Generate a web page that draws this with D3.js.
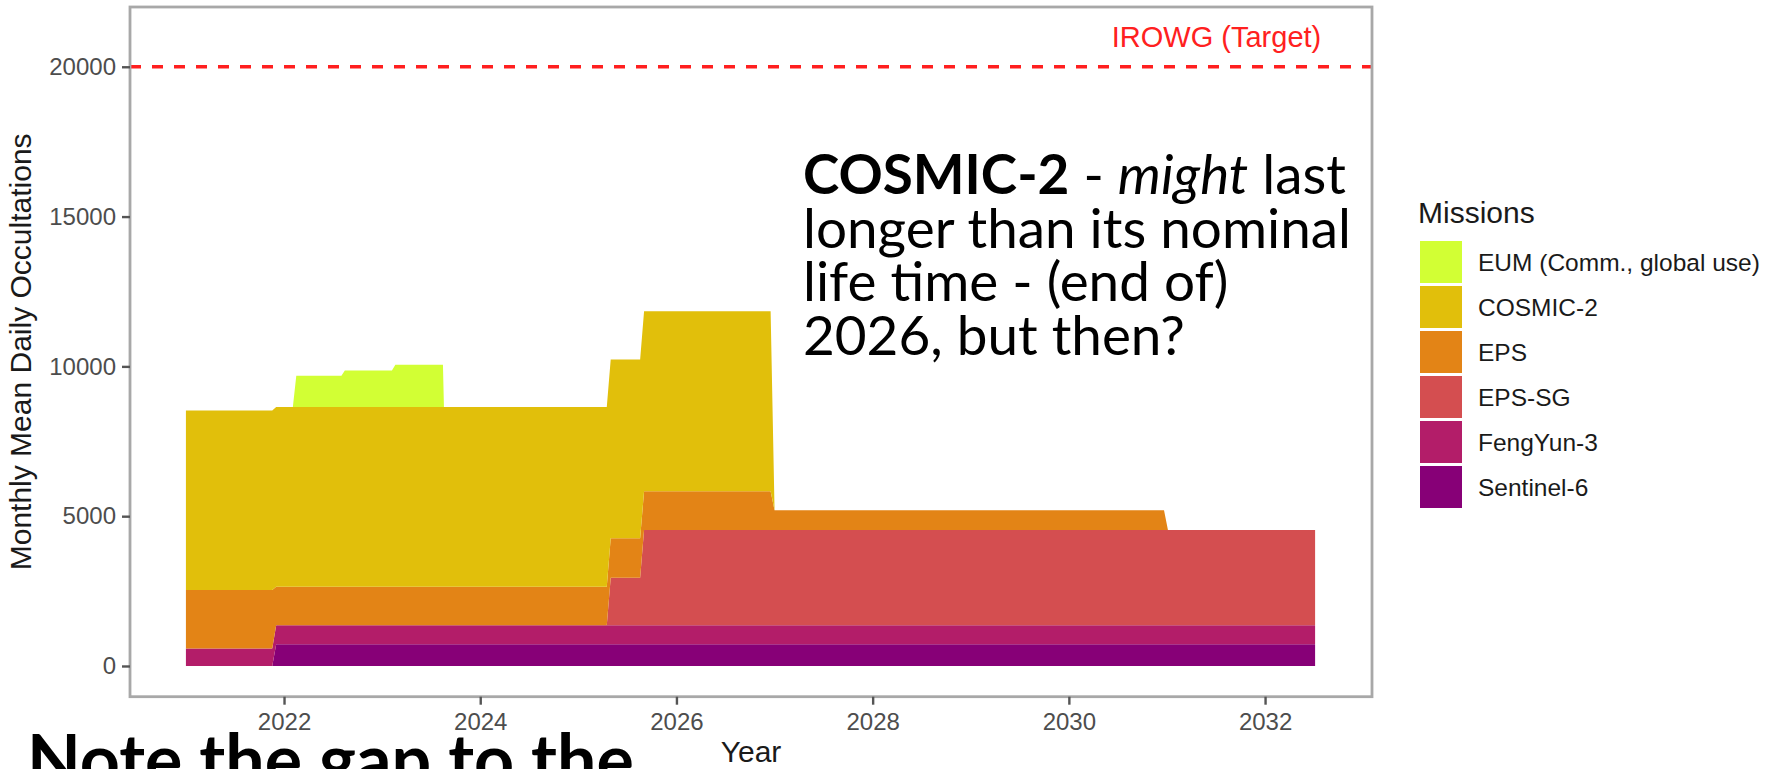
<!DOCTYPE html>
<html>
<head>
<meta charset="utf-8">
<script src="https://cdn.jsdelivr.net/npm/d3@7/dist/d3.min.js"></script>
<style>
  body { margin:0; background:#fff; }
  svg { display:block; }
</style>
</head>
<body>
<svg id="chart" width="1781" height="769"></svg>
<script>
// step points in decimal years (each change is a short ramp, like the monthly data)
var years     = [2021.00, 2021.88, 2021.92, 2022.09, 2022.125, 2022.585, 2022.62, 2023.10, 2023.135, 2023.62, 2023.63, 2025.29, 2025.33, 2025.63, 2025.67, 2026.96, 2027.00, 2030.97, 2031.01, 2032.51];
var sentinel6 = [0, 0, 722, 722, 722, 722, 722, 722, 722, 722, 722, 722, 722, 722, 722, 722, 722, 722, 722, 722];
var fengyun3  = [580, 580, 635, 635, 635, 635, 635, 635, 635, 635, 635, 635, 635, 635, 635, 635, 635, 635, 635, 635];
var epsSG     = [0, 0, 0, 0, 0, 0, 0, 0, 0, 0, 0, 0, 1590, 1590, 3180, 3180, 3180, 3180, 3180, 3180];
var eps       = [1958, 1958, 1290, 1290, 1290, 1290, 1290, 1290, 1290, 1290, 1290, 1290, 1315, 1315, 1292, 1292, 660, 660, 0, 0];
var cosmic2   = [5987, 5987, 6000, 6000, 6000, 6000, 6000, 6000, 6000, 6000, 6000, 6000, 5970, 5970, 6010, 6010, 0, 0, 0, 0];
var eum       = [0, 0, 0, 0, 1040, 1040, 1218, 1218, 1408, 1408, 0, 0, 0, 0, 0, 0, 0, 0, 0, 0];

// legend order (top of stack first)
var missions = ["EUM (Comm., global use)", "COSMIC-2", "EPS", "EPS-SG", "FengYun-3", "Sentinel-6"];
var missionColors = ["#d2ff34", "#e1bf0b", "#e38416", "#d44e50", "#b31d69", "#870077"];
var seriesByMission = [eum, cosmic2, eps, epsSG, fengyun3, sentinel6];

var yTicks = [0, 5000, 10000, 15000, 20000];
var xTicks = [2022, 2024, 2026, 2028, 2030, 2032];
var targetValue = 20000;

var noteLines = [
  [{t:"COSMIC-2", w:"bold"}, {t:" - "}, {t:"might", s:"italic"}, {t:" last"}],
  [{t:"longer than its nominal"}],
  [{t:"life time - (end of)"}],
  [{t:"2026, but then?"}]
];

var svg = d3.select("#chart");

// panel box
var panel = {left:130, top:7, right:1372, bottom:696.7};

var x = d3.scaleLinear().domain([2020.43, 2033.09]).range([panel.left, panel.right]);
var y = d3.scaleLinear().domain([-1025, 21995]).range([panel.bottom, panel.top]);

// rows for the stack
var rows = years.map(function(yr, i){
  var r = {year: yr};
  missions.forEach(function(m, k){ r[m] = seriesByMission[k][i]; });
  return r;
});

var stackKeys = missions.slice().reverse(); // bottom first
var stacked = d3.stack().keys(stackKeys)(rows);
var color = d3.scaleOrdinal().domain(missions).range(missionColors);

var area = d3.area()
  .x(function(d){ return x(d.data.year); })
  .y0(function(d){ return y(d[0]); })
  .y1(function(d){ return y(d[1]); });

svg.append("g")
  .selectAll("path")
  .data(stacked)
  .enter().append("path")
  .attr("d", area)
  .attr("fill", function(d){ return color(d.key); });

// IROWG target line
svg.append("line")
  .attr("x1", panel.left).attr("x2", panel.right)
  .attr("y1", y(targetValue)).attr("y2", y(targetValue))
  .attr("stroke", "#ff1f1f")
  .attr("stroke-width", 3.4)
  .attr("stroke-dasharray", "11,11");

svg.append("text")
  .attr("x", 1216.5)
  .attr("y", 47)
  .attr("text-anchor", "middle")
  .style("font-family", "'Liberation Sans', Arial, sans-serif")
  .style("font-size", "29px")
  .attr("fill", "#ff2020")
  .text("IROWG (Target)");

// panel border
svg.append("rect")
  .attr("x", panel.left).attr("y", panel.top)
  .attr("width", panel.right - panel.left)
  .attr("height", panel.bottom - panel.top)
  .attr("fill", "none")
  .attr("stroke", "#a8a8a8")
  .attr("stroke-width", 2.8);

// axes
var yAxis = d3.axisLeft(y).tickValues(yTicks).tickSize(8).tickPadding(6).tickFormat(d3.format("d"));
var xAxis = d3.axisBottom(x).tickValues(xTicks).tickSize(8).tickPadding(6).tickFormat(d3.format("d"));

var gy = svg.append("g").attr("transform", "translate(" + panel.left + ",0)").call(yAxis);
var gx = svg.append("g").attr("transform", "translate(0," + panel.bottom + ")").call(xAxis);

[gy, gx].forEach(function(g){
  g.select(".domain").remove();
  g.selectAll(".tick line").attr("stroke", "#555").attr("stroke-width", 2.4);
  g.selectAll(".tick text")
    .attr("fill", "#4d4d4d")
    .style("font-family", "'Liberation Sans', Arial, sans-serif")
    .style("font-size", "24px");
});
gx.selectAll(".tick text").attr("dy", null).attr("y", 33);

// axis titles
svg.append("text")
  .attr("x", (panel.left + panel.right) / 2)
  .attr("y", 762)
  .attr("text-anchor", "middle")
  .style("font-family", "'Liberation Sans', Arial, sans-serif")
  .style("font-size", "30px")
  .attr("fill", "#1a1a1a")
  .text("Year");

svg.append("text")
  .attr("transform", "translate(31," + ((panel.top + panel.bottom) / 2) + ")rotate(-90)")
  .attr("text-anchor", "middle")
  .style("font-family", "'Liberation Sans', Arial, sans-serif")
  .style("font-size", "30px")
  .attr("fill", "#1a1a1a")
  .text("Monthly Mean Daily Occultations");

// legend
var legend = svg.append("g");
legend.append("text")
  .attr("x", 1418).attr("y", 223)
  .style("font-family", "'Liberation Sans', Arial, sans-serif")
  .style("font-size", "30px")
  .attr("fill", "#1a1a1a")
  .text("Missions");

var item = legend.selectAll(".item")
  .data(missions)
  .enter().append("g")
  .attr("class", "item")
  .attr("transform", function(d, i){ return "translate(1420," + (241 + i * 45) + ")"; });

item.append("rect")
  .attr("width", 42).attr("height", 42)
  .attr("fill", function(d){ return color(d); });

item.append("text")
  .attr("x", 58).attr("y", 21).attr("dy", "0.35em")
  .style("font-family", "'Liberation Sans', Arial, sans-serif")
  .style("font-size", "24.5px")
  .attr("fill", "#1a1a1a")
  .text(function(d){ return d; });

// slide annotation (Calibri-like look)
var noteGroup = svg.append("g")
  .style("font-family", "Lato, 'Open Sans', sans-serif")
  .style("font-size", "58px")
  .attr("fill", "#000");

var noteBase = [194, 248, 301, 355];
var noteTexts = noteLines.map(function(parts, i){
  var t = noteGroup.append("text").attr("x", 803).attr("y", noteBase[i]);
  parts.forEach(function(p){
    t.append("tspan")
      .style("font-weight", p.w || "normal")
      .style("font-style", p.s || "normal")
      .text(p.t);
  });
  return t;
});
// fit size so the widest line matches the picture
var w2 = noteTexts[1].node().getComputedTextLength();
noteGroup.style("font-size", (58 * 548 / w2) + "px");

var bottomNote = svg.append("text")
  .attr("x", 27)
  .style("font-family", "Lato, 'Open Sans', sans-serif")
  .style("font-weight", "bold")
  .style("font-size", "75px")
  .attr("fill", "#000")
  .text("Note the gap to the");
var wb = bottomNote.node().getComputedTextLength();
var fsb = 75 * 607 / wb;
bottomNote.style("font-size", fsb + "px").attr("y", 735 + 0.7165 * fsb);
</script>
</body>
</html>
